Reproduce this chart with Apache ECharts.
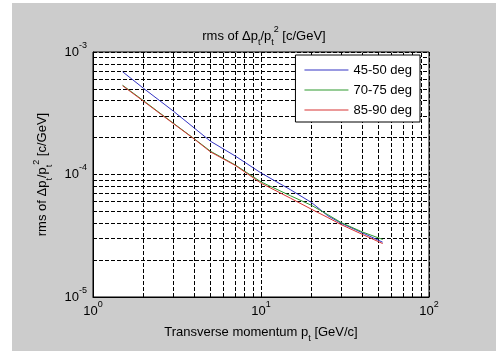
<!DOCTYPE html>
<html lang="en">
<head>
    <meta charset="UTF-8">
    <title>rms of dpt/pt2</title>
    <script src="https://cdn.jsdelivr.net/npm/echarts@6/dist/echarts.min.js"></script>
    <style>
        * { margin: 0; padding: 0; box-sizing: border-box; }
        body { width: 496px; height: 351px; background: #fff; position: relative; overflow: hidden; }
        #chart { position: absolute; left: 12px; top: 3px; width: 484px; height: 348px; background: #cccccc; }
    </style>
</head>
<body>
    <div id="chart"></div>
    <script>
        // transverse momentum points (GeV/c)
        const pt = [1.5, 2, 3, 4, 5, 7, 10, 15, 20, 25, 30, 40, 53];
        // rms of dpt/pt^2 (c/GeV) for each angle range
        const deg4550 = [6.9e-4, 5.05e-4, 3.3e-4, 2.4e-4, 1.87e-4, 1.42e-4, 1.03e-4, 7.5e-5, 5.9e-5, 4.6e-5, 4.0e-5, 3.35e-5, 2.8e-5];
        const deg7075 = [5.35e-4, 4.0e-4, 2.63e-4, 1.96e-4, 1.55e-4, 1.2e-4, 8.7e-5, 6.7e-5, 5.6e-5, 4.7e-5, 4.05e-5, 3.4e-5, 2.95e-5];
        const deg8590 = [5.3e-4, 3.96e-4, 2.61e-4, 1.95e-4, 1.53e-4, 1.19e-4, 8.5e-5, 6.4e-5, 5.2e-5, 4.45e-5, 3.9e-5, 3.25e-5, 2.73e-5];
        const seriesNames = ['45-50 deg', '70-75 deg', '85-90 deg'];
        const colors = ['#3434c4', '#2f9a2f', '#d83434'];

        const xRange = [1, 100];
        const yRange = [1e-5, 1e-3];

        // minor log grid values (2..9 in every decade)
        function minorValues(lo, hi) {
            const out = [];
            const decades = Math.round(Math.log10(hi / lo));
            for (let k = 0; k < decades; k++) {
                const d = lo * Math.pow(10, k);
                for (let m = 2; m <= 9; m++) out.push(m * d);
            }
            return out;
        }

        const fontFamily = '"Liberation Sans", Arial, sans-serif';
        function tok(size, align) {
            return { fontSize: size, fontWeight: 'normal', verticalAlign: align, lineHeight: 22, color: '#000', fontFamily: fontFamily };
        }
        const supRich = { b: tok(13, 'middle'), s: tok(9, 'top') };
        const textRich = { n: tok(13, 'middle'), t: tok(9, 'bottom'), s: tok(9, 'top') };
        function powLabel(v) {
            return '{b|10}{s|' + Math.round(Math.log10(v)) + '}';
        }

        const dash = { color: '#000', width: 1, type: [4, 2] };

        const chart = echarts.init(document.getElementById('chart'));
        const data = [deg4550, deg7075, deg8590];

        const minorGrid = minorValues(xRange[0], xRange[1]).map(v => [{ coord: [v, yRange[0]] }, { coord: [v, yRange[1]] }])
            .concat(minorValues(yRange[0], yRange[1]).map(v => [{ coord: [xRange[0], v] }, { coord: [xRange[1], v] }]));

        const series = [{
            name: 'grid',
            type: 'line',
            data: [],
            silent: true,
            z: 1,
            markLine: {
                silent: true,
                z: 1,
                symbol: 'none',
                label: { show: false },
                lineStyle: dash,
                animation: false,
                data: minorGrid
            }
        }];
        data.forEach(function (vals, i) {
            series.push({
                name: seriesNames[i],
                type: 'line',
                symbol: 'none',
                z: 3,
                lineStyle: { color: colors[i], width: 1 },
                itemStyle: { color: colors[i] },
                data: pt.map((x, j) => [x, vals[j]])
            });
        });

        chart.setOption({
            animation: false,
            backgroundColor: '#cccccc',
            title: {
                text: '{n|rms of Δp}{t|t}{n|/p}{t|t}{s|2}{n| [c/GeV]}',
                left: 247,
                top: 17,
                textAlign: 'center',
                textStyle: { fontWeight: 'normal', rich: textRich }
            },
            grid: {
                left: 81, right: 67, top: 49, bottom: 54,
                show: true,
                backgroundColor: '#fff',
                borderColor: '#000',
                borderWidth: 1
            },
            legend: {
                data: seriesNames,
                z: 20,
                orient: 'vertical',
                right: 76,
                top: 52,
                backgroundColor: '#fff',
                borderColor: '#000',
                borderWidth: 1,
                padding: [8, 8, 5, 9],
                itemGap: 6,
                icon: 'rect',
                itemWidth: 44,
                itemHeight: 1,
                itemTextGap: 5,
                textStyle: { fontSize: 13, color: '#000', fontFamily: fontFamily, lineHeight: 14 }
            },
            xAxis: {
                type: 'log',
                logBase: 10,
                min: xRange[0],
                max: xRange[1],
                name: '{n|Transverse momentum p}{t|t}{n| [GeV/c]}',
                nameLocation: 'middle',
                nameGap: 24,
                nameTextStyle: { rich: textRich },
                axisLine: { show: true, lineStyle: { color: '#000' } },
                axisTick: { show: true, inside: true, length: 4, lineStyle: { color: '#000' } },
                axisLabel: { formatter: powLabel, rich: supRich, margin: 3 },
                splitLine: { show: true, lineStyle: dash }
            },
            yAxis: {
                type: 'log',
                logBase: 10,
                min: yRange[0],
                max: yRange[1],
                name: '{n|rms of Δp}{t|t}{n|/p}{t|t}{s|2}{n| [c/GeV]}',
                nameLocation: 'middle',
                nameRotate: 90,
                nameGap: 39,
                nameTextStyle: { rich: textRich },
                axisLine: { show: true, lineStyle: { color: '#000' } },
                axisTick: { show: true, inside: true, length: 4, lineStyle: { color: '#000' } },
                axisLabel: { formatter: powLabel, rich: supRich, margin: 6 },
                splitLine: { show: true, lineStyle: dash }
            },
            series: series
        });
    </script>
</body>
</html>
